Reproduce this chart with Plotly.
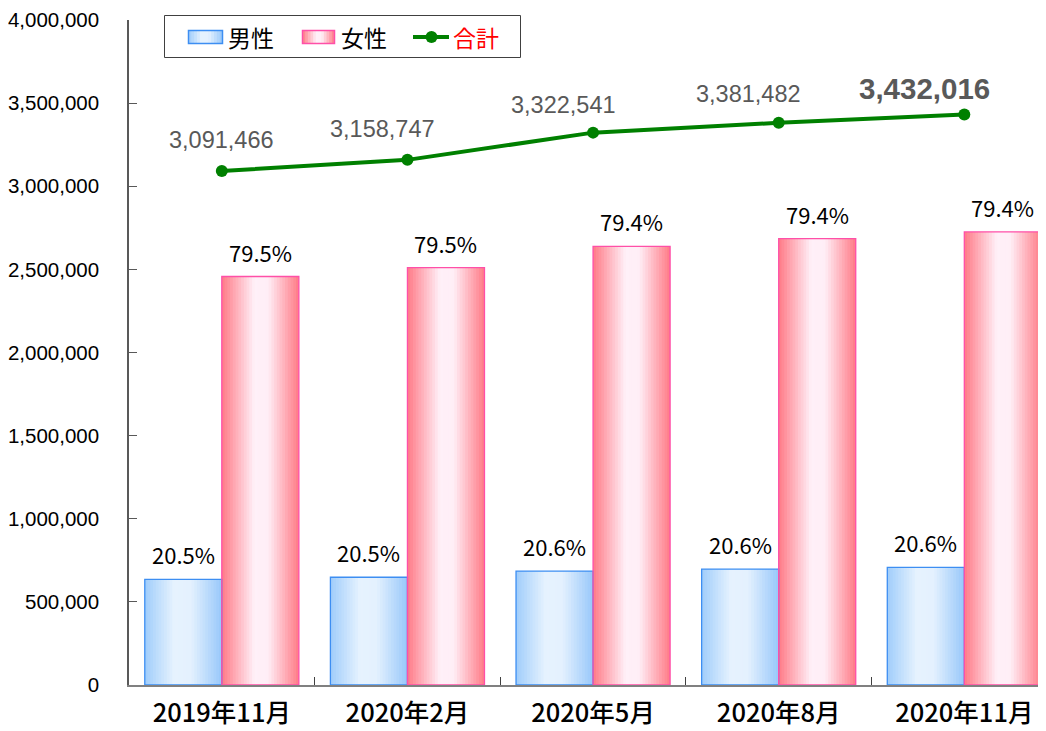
import plotly.graph_objects as go

# ---------------- data ----------------
categories = ["2019年11月", "2020年2月", "2020年5月", "2020年8月", "2020年11月"]
male = [635000, 648000, 685000, 697000, 707000]
female = [2457000, 2511000, 2638000, 2685000, 2725000]
total = [3091466, 3158747, 3322541, 3381482, 3432016]
male_pct = ["20.5%", "20.5%", "20.6%", "20.6%", "20.6%"]
female_pct = ["79.5%", "79.5%", "79.4%", "79.4%", "79.4%"]
y_tick_vals = [0, 500000, 1000000, 1500000, 2000000, 2500000, 3000000, 3500000, 4000000]
y_tick_text = ["0", "500,000", "1,000,000", "1,500,000", "2,000,000",
               "2,500,000", "3,000,000", "3,500,000", "4,000,000"]
legend_names = ["男性", "女性", "合計"]

# ---------------- layout constants (style) ----------------
OFF = 8  # default page body margin
W, H = 1046 - OFF, 731 - OFF
ML, MR, MT, MB = 129 - OFF, 0, 20 - OFF, 46
PW, PH = W - ML - MR, H - MT - MB
X_RANGE = [-0.5, 4.44]
BAR_W = 0.415
px_per_cat = PW / (X_RANGE[1] - X_RANGE[0])
bar_px = BAR_W * px_per_cat

# total label offsets (pixels) relative to the points
tot_dx = [0, -25, -30, -30, -40]
tot_dy = [31, 31, 28, 29, 26]

JP = "Noto Sans CJK JP"
AR = "Liberation Sans, Arial"

MALE_LINE = "#3d8ef2"
FEMALE_LINE = "#ff4fa8"
GREEN = "#008000"


def px(xp):  # page x -> paper
    return (xp - OFF - ML) / PW


def py(yp):  # page y -> paper
    return 1 - (yp - OFF - MT) / PH


def lerp(c1, c2, t):
    return tuple(round(a + (b - a) * t) for a, b in zip(c1, c2))


def grad(stops, t):
    for (p0, c0), (p1, c1) in zip(stops, stops[1:]):
        if p0 <= t <= p1:
            return lerp(c0, c1, (t - p0) / (p1 - p0) if p1 > p0 else 0)
    return stops[-1][1]


male_stops = [(0.0, (160, 205, 251)), (0.38, (230, 242, 254)), (0.6, (228, 241, 254)), (1.0, (152, 200, 250))]
female_stops = [(0.0, (255, 122, 134)), (0.42, (255, 240, 248)), (0.6, (255, 238, 246)), (1.0, (255, 122, 134))]

fig = go.Figure()

N = 28


def add_gradient_bar(values, base_offset, stops):
    step = BAR_W / N
    for k in range(N):
        t = (k + 0.5) / N
        c = grad(stops, t)
        w = step * (1.6 if k < N - 1 else 1.0)
        fig.add_trace(go.Bar(
            x=categories, y=values, width=w, offset=base_offset + k * step,
            marker=dict(color="rgb(%d,%d,%d)" % c, line=dict(width=0)),
            showlegend=False, hoverinfo="skip"))


add_gradient_bar(male, -BAR_W, male_stops)
add_gradient_bar(female, 0.0, female_stops)

# outlines
fig.add_trace(go.Bar(x=categories, y=male, width=BAR_W, offset=-BAR_W,
                     marker=dict(color="rgba(0,0,0,0)", line=dict(color=MALE_LINE, width=1.3)),
                     showlegend=False, hoverinfo="skip"))
fig.add_trace(go.Bar(x=categories, y=female, width=BAR_W, offset=0,
                     marker=dict(color="rgba(0,0,0,0)", line=dict(color=FEMALE_LINE, width=1.3)),
                     showlegend=False, hoverinfo="skip"))

# total line
fig.add_trace(go.Scatter(x=categories, y=total, mode="lines+markers",
                         name=legend_names[2],
                         line=dict(color=GREEN, width=4),
                         marker=dict(color=GREEN, size=12),
                         showlegend=False, hoverinfo="skip"))

annotations = []
for i, cat in enumerate(categories):
    annotations.append(dict(x=cat, y=male[i], xref="x", yref="y", text=male_pct[i],
                            showarrow=False, xshift=-bar_px / 2, yanchor="bottom", yshift=7,
                            font=dict(family=JP, size=22, color="#000000")))
    annotations.append(dict(x=cat, y=female[i], xref="x", yref="y", text=female_pct[i],
                            showarrow=False, xshift=bar_px / 2, yanchor="bottom", yshift=7,
                            font=dict(family=JP, size=22, color="#000000")))
    last = i == len(categories) - 1
    annotations.append(dict(x=cat, y=total[i], xref="x", yref="y",
                            text=("<b>%s</b>" if last else "%s") % f"{total[i]:,}",
                            showarrow=False, xshift=tot_dx[i], yshift=tot_dy[i],
                            yanchor="middle",
                            font=dict(family=AR, size=29.5 if last else 23.5, color="#595959")))

# ---------------- hand-built legend ----------------
shapes = []
shapes.append(dict(type="rect", xref="paper", yref="paper", layer="above",
                   x0=px(164.5), x1=px(520.5), y0=py(57.5), y1=py(15.5),
                   line=dict(color="#404040", width=1), fillcolor="white"))


def swatch(x0, x1, y0, y1, stops, edge):
    n = 12
    step = (x1 - x0) / n
    for k in range(n):
        c = grad(stops, (k + 0.5) / n)
        shapes.append(dict(type="rect", xref="paper", yref="paper", layer="above",
                           x0=px(x0 + k * step), x1=px(x0 + (k + 1.3) * step if k < n - 1 else x1),
                           y0=py(y1), y1=py(y0),
                           line=dict(width=0), fillcolor="rgb(%d,%d,%d)" % c))
    shapes.append(dict(type="rect", xref="paper", yref="paper", layer="above",
                       x0=px(x0), x1=px(x1), y0=py(y1), y1=py(y0),
                       line=dict(color=edge, width=1.5), fillcolor="rgba(0,0,0,0)"))


swatch(188.5, 222.5, 30.5, 43.5, male_stops, MALE_LINE)
swatch(302.5, 334.5, 30.5, 43.5, female_stops, FEMALE_LINE)
shapes.append(dict(type="line", xref="paper", yref="paper", layer="above",
                   x0=px(413), x1=px(449), y0=py(37), y1=py(37),
                   line=dict(color=GREEN, width=4)))
shapes.append(dict(type="circle", xref="paper", yref="paper", layer="above",
                   x0=px(425.5), x1=px(437.5), y0=py(43), y1=py(31),
                   line=dict(color=GREEN, width=0), fillcolor=GREEN))

for name, xl, col in zip(legend_names, [226, 339, 451], ["#000000", "#000000", "#ff0000"]):
    annotations.append(dict(x=px(xl), y=py(37), xref="paper", yref="paper", text=name,
                            showarrow=False, xanchor="left", yanchor="middle",
                            font=dict(family=JP, size=23, color=col)))

fig.update_layout(
    width=W, height=H,
    margin=dict(l=ML, r=MR, t=MT, b=MB, pad=0, autoexpand=False),
    paper_bgcolor="white", plot_bgcolor="white",
    barmode="overlay",
    showlegend=False,
    annotations=annotations,
    shapes=shapes,
    xaxis=dict(range=X_RANGE, showgrid=False, zeroline=False, automargin=False,
               showline=True, linecolor="#808080", linewidth=2,
               ticks="inside", tickson="boundaries", ticklen=8, tickcolor="#404040",
               tickfont=dict(family=JP, size=25.5, color="#000000", weight=500),
               ticklabelstandoff=4),
    yaxis=dict(range=[0, 4000000], showgrid=False, zeroline=False, automargin=False,
               showline=True, linecolor="#595959", linewidth=1.5,
               tickmode="array", tickvals=y_tick_vals, ticktext=y_tick_text,
               ticks="inside", ticklen=8, tickcolor="#595959",
               tickfont=dict(family=AR, size=20.5, color="#000000"),
               ticklabelstandoff=24),
)

fig.write_html("out.html")
